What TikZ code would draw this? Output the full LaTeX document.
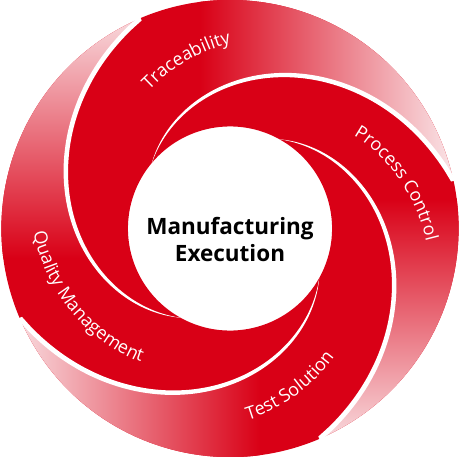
\documentclass[tikz,border=0pt]{standalone}
\usepackage{fontspec}
\setmainfont{Open Sans}
\usetikzlibrary{decorations.text}
\definecolor{bandred}{RGB}{217,0,22}
\definecolor{tailpink}{RGB}{251,236,238}
\newcommand{\labelfont}{\color{white}\fontsize{18}{20}\selectfont}

\begin{document}
\begin{tikzpicture}[x=1pt, y=1pt,
    spiral/.style={smooth, samples=40},
    swirltext/.style={decorate, decoration={text along path, text align=center}},
    title/.style={font=\bfseries\fontsize{22.5}{26}\selectfont, inner sep=0pt, anchor=base}]
    \useasboundingbox (-230,-228.5) rectangle (230,228.5);

    % Baender (Spitze innen, Auslauf aussen)
    \foreach \a/\b/\r in {140/241/0, 61/140/-90, -29/61/-180, -119/-29/-270} {
        \begin{scope}
            \clip plot[spiral, domain=0:1] ({\a-128*\x}:{102+126.5*(0.75*\x+0.25*\x*\x)})
                arc[start angle=\a-128, end angle=\b-128, radius=228.5]
                -- plot[spiral, domain=1:0] ({\b-128*\x}:{102+126.5*(0.75*\x+0.25*\x*\x)})
                arc[start angle=\b, end angle=\a, radius=102] -- cycle;
            \fill[bandred] (-235,-235) rectangle (235,235);
            \shade[transform canvas={rotate=\r}, left color=bandred, right color=tailpink]
                (-30,-235) rectangle (232,235);
        \end{scope}
    }

    % weisse Fugen
    \foreach \a in {140, 61, -29, -119}
        \fill[white] plot[spiral, domain=0:1] ({\a-128*\x}:{102+126.5*(0.75*\x+0.25*\x*\x)+2.5*\x*(3-3*\x+\x*\x)})
            -- plot[spiral, domain=1:0] ({\a-128*\x}:{102+126.5*(0.75*\x+0.25*\x*\x)-2.5*\x*(3-3*\x+\x*\x)}) -- cycle;

    % Beschriftungen
    \path[swirltext, decoration={text={|\labelfont|Traceability}}]
        plot[domain=0:1, samples=12] ({127.6-44*\x}:{153.5+37*\x});
    \path[swirltext, decoration={text={|\labelfont|Process Control}}]
        plot[domain=0:1, samples=12] ({45-55*\x}:{146.7+56.6*\x});
    \path[swirltext, decoration={text={|\labelfont|Test Solution}}]
        plot[domain=0:1, samples=12] ({-92+50*\x}:{198.6-40.5*\x});
    \path[swirltext, decoration={text={|\labelfont|Quality Management}}]
        plot[domain=0:1, samples=12] ({172+76*\x}:{203-50*\x});

    % Mitte
    \node[title] (mfg) at (0,-6.5) {Manufacturing};
    \node[title] (exe) at (0,-33.5) {Execution};
\end{tikzpicture}
\end{document}
